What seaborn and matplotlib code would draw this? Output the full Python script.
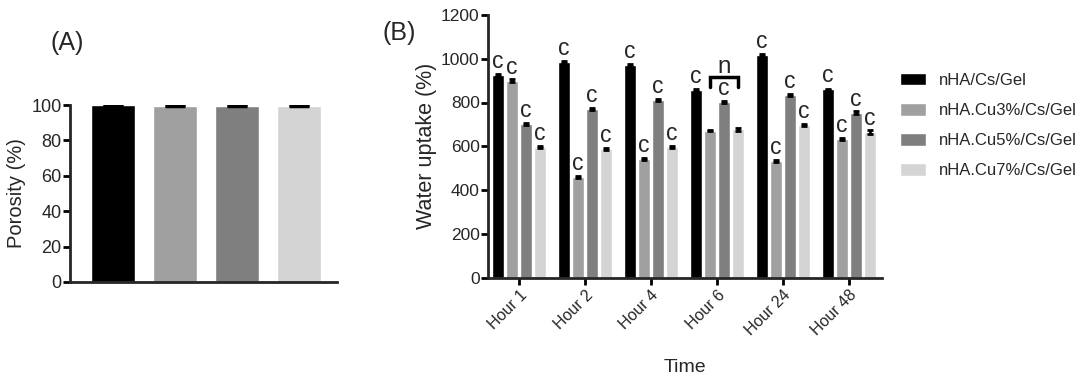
import numpy as np
import pandas as pd
import seaborn as sns
from matplotlib import pyplot as plt

# groups / series
groups = ['nHA/Cs/Gel', 'nHA.Cu3%/Cs/Gel', 'nHA.Cu5%/Cs/Gel', 'nHA.Cu7%/Cs/Gel']
colors = ['#000000', '#a0a0a0', '#7f7f7f', '#d4d4d4']

# panel A - porosity
porosity = [100.0, 99.6, 99.6, 99.6]
porosity_err = [0.3, 0.3, 0.3, 0.3]

# panel B - water uptake
hours = ['Hour 1', 'Hour 2', 'Hour 4', 'Hour 6', 'Hour 24', 'Hour 48']
uptake_0 = [927, 985, 972, 858, 1018, 860]
uptake_3 = [900, 460, 542, 672, 531, 635]
uptake_5 = [702, 772, 810, 803, 834, 754]
uptake_7 = [595, 587, 597, 677, 699, 665]
err_0 = [4, 4, 6, 4, 4, 4]
err_3 = [8, 5, 6, 4, 5, 5]
err_5 = [4, 5, 4, 5, 6, 5]
err_7 = [5, 5, 4, 8, 5, 9]
letters_0 = ['c', 'c', 'c', 'c', 'c', 'c']
letters_3 = ['c', 'c', 'c', '', 'c', 'c']
letters_5 = ['c', 'c', 'c', 'c', 'c', 'c']
letters_7 = ['c', 'c', 'c', '', 'c', 'c']

sns.set_style('ticks')
plt.rcParams['font.family'] = ['Liberation Sans', 'DejaVu Sans']
plt.rcParams['axes.linewidth'] = 2

fig = plt.figure(figsize=(10.9, 3.91), dpi=100)
W, H = 1090.0, 391.0
axA = fig.add_axes([70 / W, (H - 282) / H, (337 - 70) / W, (282 - 105) / H])
axB = fig.add_axes([488 / W, (H - 277.5) / H, (882 - 488) / W, (277.5 - 15) / H])

# ---- panel A
dfA = pd.DataFrame({'group': groups, 'porosity': porosity})
sns.barplot(data=dfA, x='group', y='porosity', hue='group', palette=colors,
            width=0.71, saturation=1, legend=False, ax=axA)
for bar, e in zip(axA.patches, porosity_err):
    axA.errorbar(bar.get_x() + bar.get_width() / 2, bar.get_height(), yerr=e,
                 fmt='none', ecolor='black', elinewidth=2, capsize=7.5, capthick=2.5)
axA.set_ylim(0, 100)
axA.set_yticks(range(0, 101, 20))
axA.set_xlim(-0.70, 3.62)
axA.set_xticks([])
axA.set_xlabel('')
axA.set_ylabel('Porosity (%)', fontsize=14.5, labelpad=4)
axA.tick_params(axis='y', labelsize=13, width=2, length=5, color='black', pad=1)
sns.despine(ax=axA)
fig.text(67 / W, 1 - 43 / H, '(A)', fontsize=18, ha='center', va='center')

# ---- panel B
series = [uptake_0, uptake_3, uptake_5, uptake_7]
errs = [err_0, err_3, err_5, err_7]
letters = [letters_0, letters_3, letters_5, letters_7]
dfB = pd.DataFrame({
    'Time': np.tile(hours, 4),
    'group': np.repeat(groups, len(hours)),
    'uptake': np.concatenate(series),
})
sns.barplot(data=dfB, x='Time', y='uptake', hue='group', hue_order=groups,
            palette=colors, saturation=1, width=0.84, gap=0.1, errorbar=None, ax=axB)

for cont, vals, ee, lets in zip(axB.containers, series, errs, letters):
    for bar, v, e, t in zip(cont, vals, ee, lets):
        cx = bar.get_x() + bar.get_width() / 2
        axB.errorbar(cx, v, yerr=e, fmt='none', ecolor='black', elinewidth=2,
                     capsize=2.5, capthick=2)
        if t:
            axB.annotate(t, (cx, v), xytext=(0, 5), textcoords='offset points',
                         ha='center', va='baseline', fontsize=16.5)

# bracket over Hour 6 (Cu3 .. Cu7)
i6 = hours.index('Hour 6')
b3 = axB.containers[1][i6]
b7 = axB.containers[3][i6]
x3 = b3.get_x() + b3.get_width() / 2
x7 = b7.get_x() + b7.get_width() / 2
top = max(uptake_3[i6], uptake_5[i6], uptake_7[i6]) + 112
axB.plot([x3, x3, x7, x7], [top - 45, top, top, top - 45], color='black', lw=2.5,
         solid_joinstyle='miter')
axB.text((x3 + x7) / 2, top + 22, 'n', ha='center', va='baseline', fontsize=17.5)

axB.set_ylim(0, 1200)
axB.set_yticks(range(0, 1201, 200))
axB.set_xlim(-0.47, 5.5)
axB.set_ylabel('Water uptake (%)', fontsize=15.5, labelpad=3)
axB.set_xlabel('Time', fontsize=14, labelpad=15)
axB.tick_params(axis='both', labelsize=12.5, width=2, length=5, color='black', pad=1)
axB.tick_params(axis='x', labelsize=11.5, pad=2)
for lab in axB.get_xticklabels():
    lab.set_rotation(45)
    lab.set_ha('right')
    lab.set_rotation_mode('anchor')
sns.despine(ax=axB)

h, l = axB.get_legend_handles_labels()
axB.get_legend().remove()
fig.legend(h, l, loc='upper left', bbox_to_anchor=(893 / W, 1 - 66 / H), frameon=False,
           fontsize=12, handlelength=1.6, handleheight=0.8, labelspacing=0.9,
           handletextpad=0.75, borderaxespad=0)
fig.text(399 / W, 1 - 33 / H, '(B)', fontsize=18, ha='center', va='center')

fig.savefig('out.png', dpi=100)
